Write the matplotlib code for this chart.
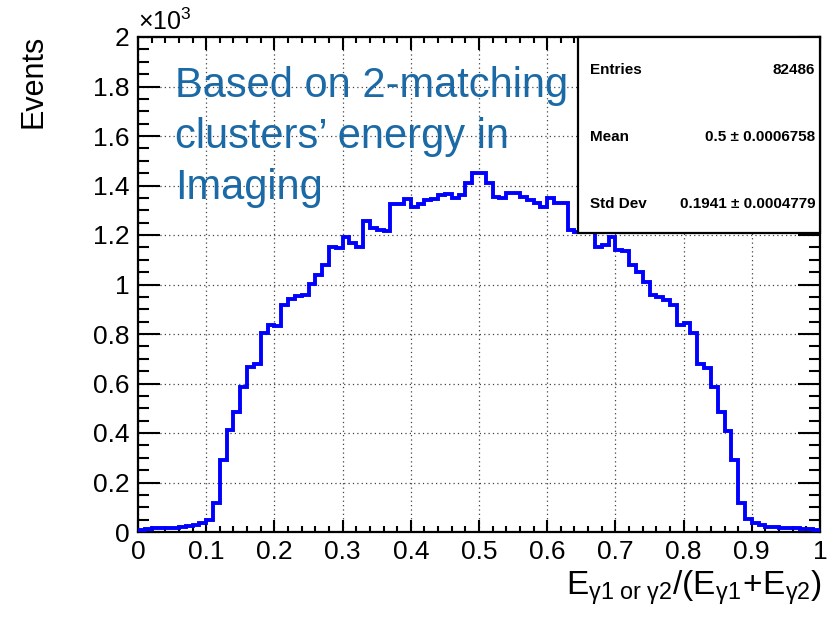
import matplotlib
matplotlib.use("Agg")
import matplotlib.pyplot as plt
import numpy as np
from matplotlib.ticker import MultipleLocator, FuncFormatter

plt.rcParams['font.family'] = ['Liberation Sans', 'DejaVu Sans']
plt.rcParams['mathtext.fontset'] = 'custom'
plt.rcParams['mathtext.rm'] = 'Liberation Sans'
plt.rcParams['mathtext.it'] = 'Liberation Sans'

# histogram: 100 bins between 0 and 1
bin_lo = 0.0
bin_hi = 1.0
counts = [8, 12, 16, 17, 18, 18, 20, 24, 30, 38,
          50, 118, 291, 414, 486, 584, 665, 680, 805, 838,
          832, 916, 940, 952, 957, 1004, 1040, 1077, 1150, 1148,
          1191, 1166, 1153, 1257, 1229, 1220, 1215, 1327, 1327, 1347,
          1313, 1327, 1340, 1346, 1362, 1365, 1350, 1360, 1409, 1452,
          1452, 1409, 1352, 1350, 1368, 1368, 1355, 1341, 1328, 1312,
          1348, 1330, 1328, 1222, 1214, 1214, 1212, 1153, 1160, 1193,
          1139, 1136, 1079, 1052, 1011, 958, 951, 937, 917, 836,
          843, 806, 680, 661, 584, 483, 409, 291, 118, 51,
          38, 28, 22, 19, 17, 16, 15, 14, 12, 8]

stat_names = ["Entries", "Mean", "Std Dev"]
stat_values = ["82486", "0.5 \u00b1 0.0006758", "0.1941 \u00b1 0.0004779"]
note = "Based on 2-matching\nclusters\u2019 energy in\nImaging"

edges = np.linspace(bin_lo, bin_hi, len(counts) + 1)

fig = plt.figure(figsize=(8.32, 6.22), dpi=100)
ax = fig.add_axes([138 / 832, 1 - 532 / 622, 682 / 832, 495 / 622])

ax.stairs(counts, edges, baseline=None, color="#0000ff", lw=2.8, zorder=3)

ax.set_xlim(0, 1)
ax.set_ylim(0, 2000)
ax.xaxis.set_major_locator(MultipleLocator(0.1))
ax.xaxis.set_minor_locator(MultipleLocator(0.02))
ax.yaxis.set_major_locator(MultipleLocator(200))
ax.yaxis.set_minor_locator(MultipleLocator(50))
ax.xaxis.set_major_formatter(FuncFormatter(lambda v, p: "%g" % round(v, 2)))
ax.yaxis.set_major_formatter(FuncFormatter(lambda v, p: "%g" % round(v / 1000.0, 2)))

ax.grid(True, which="major", color="#444444", linestyle=(0, (1, 2.5)), lw=0.9, zorder=1)
for s in ax.spines.values():
    s.set_linewidth(1.6)

ax.tick_params(axis="both", which="both", direction="in", top=True, right=True,
               width=1.5, labelsize=19, colors="black")
ax.tick_params(axis="y", which="major", length=16, pad=6)
ax.tick_params(axis="y", which="minor", length=8)
ax.tick_params(axis="x", which="major", length=9, pad=6)
ax.tick_params(axis="x", which="minor", length=4.5)

# stats box
box = plt.Rectangle((0.645, 0.604), 0.355, 0.396, transform=ax.transAxes,
                    facecolor="white", edgecolor="black", lw=1.6, zorder=5, clip_on=False)
ax.add_patch(box)
rows_y = [0.933, 0.798, 0.663]
for name, val, yy in zip(stat_names, stat_values, rows_y):
    ax.text(0.663, yy, name, transform=ax.transAxes, ha="left", va="center",
            fontsize=11, fontweight="bold", zorder=6)
    ax.text(0.993, yy, val, transform=ax.transAxes, ha="right", va="center",
            fontsize=11, fontweight="bold", zorder=6)

fig.text(175 / 832, 1 - 66 / 622, note, color="#1b6aa6", fontsize=30,
         ha="left", va="top", linespacing=1.36)

fig.text(138 / 832, 1 - 30 / 622, r"$\times\mathregular{10^{3}}$", fontsize=18,
         ha="left", va="baseline")
fig.text(33 / 832, 1 - 35 / 622, "Events", rotation=90, ha="center", va="top", fontsize=22)
fig.text(822 / 832, 1 - 595 / 622,
         r"$\mathregular{E_{\gamma1\ or\ \gamma2}/(E_{\gamma1}\!+\!E_{\gamma2})}$",
         ha="right", va="baseline", fontsize=24)

fig.savefig("out.png", dpi=100)
